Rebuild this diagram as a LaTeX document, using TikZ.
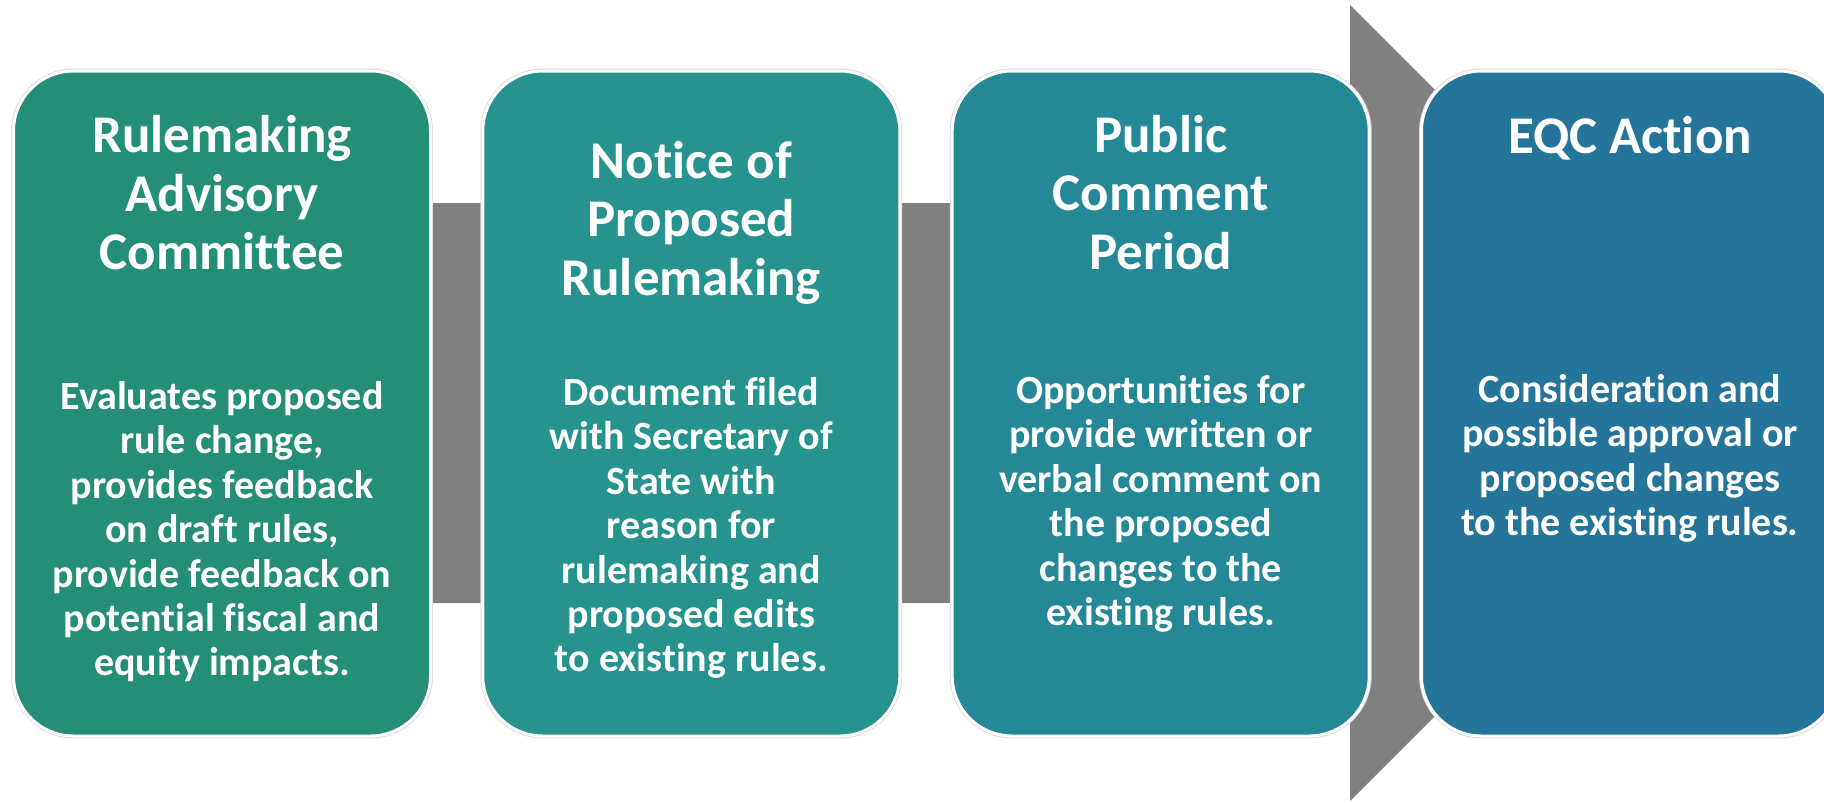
\documentclass[tikz,border=0pt]{standalone}
\usepackage{fontspec}
\setmainfont[Ligatures={NoCommon}]{Carlito}
\usetikzlibrary{backgrounds}
\definecolor{cA}{RGB}{37,142,118}
\definecolor{cB}{RGB}{38,147,142}
\definecolor{cC}{RGB}{36,136,150}
\definecolor{cD}{RGB}{36,117,153}
\definecolor{arrowgray}{RGB}{128,128,128}
\definecolor{rimgray}{RGB}{220,220,220}
\begin{document}
\begin{tikzpicture}[x=0.5pt,y=-0.5pt,
  stage/.style={rectangle, rounded corners=30pt, minimum width=208.5pt, minimum height=332.5pt,
    inner sep=0pt, outer sep=0pt, draw=white, line width=1.5pt,
    preaction={draw=rimgray, line width=2.4pt}},
  title/.style={anchor=north, align=center, text=white, inner sep=0pt,
    font=\bfseries\fontsize{26.5pt}{29.2pt}\selectfont},
  body/.style={anchor=north, align=center, text=white, inner sep=0pt,
    font=\bfseries\fontsize{20pt}{22.2pt}\selectfont},
]
\useasboundingbox (0,0) rectangle (1824,803);

\node[stage, fill=cA] (b1) at (222,403.5) {};
\node[stage, fill=cB] (b2) at (691.3,403.5) {};
\node[stage, fill=cC] (b3) at (1160.7,403.5) {};
\node[stage, fill=cD] (b4) at (1630,403.5) {};

\begin{pgfonlayer}{background}
  \coordinate (tip) at (1748,403);
  \fill[arrowgray] (100,203) -- (1350,203) -- (1350,5) -- (tip) -- (1350,801)
    -- (1350,603) -- (100,603) -- cycle;
\end{pgfonlayer}

\node[title] (t1) at (222,99.5) {\rule{0pt}{1em}Rulemaking\\Advisory\\Committee};
\node[title] (t2) at (691.3,125) {\rule{0pt}{1em}Notice of\\Proposed\\Rulemaking};
\node[title] (t3) at (1160.7,99) {\rule{0pt}{1em}Public\\Comment\\Period};
\node[title] (t4) at (1630,100) {\rule{0pt}{1em}EQC Action};

\node[body] (d1) at (222,369) {\rule{0pt}{1em}Evaluates proposed\\rule change,\\provides feedback\\on draft rules,\\provide feedback on\\potential fiscal and\\equity impacts.};
\node[body] (d2) at (691.3,365) {\rule{0pt}{1em}Document filed\\with Secretary of\\State with\\reason for\\rulemaking and\\proposed edits\\to existing rules.};
\node[body] (d3) at (1160.7,363) {\rule{0pt}{1em}Opportunities for\\provide written or\\verbal comment on\\the proposed\\changes to the\\existing rules.};
\node[body] (d4) at (1630,362) {\rule{0pt}{1em}Consideration and\\possible approval or\\proposed changes\\to the existing rules.};
\end{tikzpicture}
\end{document}
